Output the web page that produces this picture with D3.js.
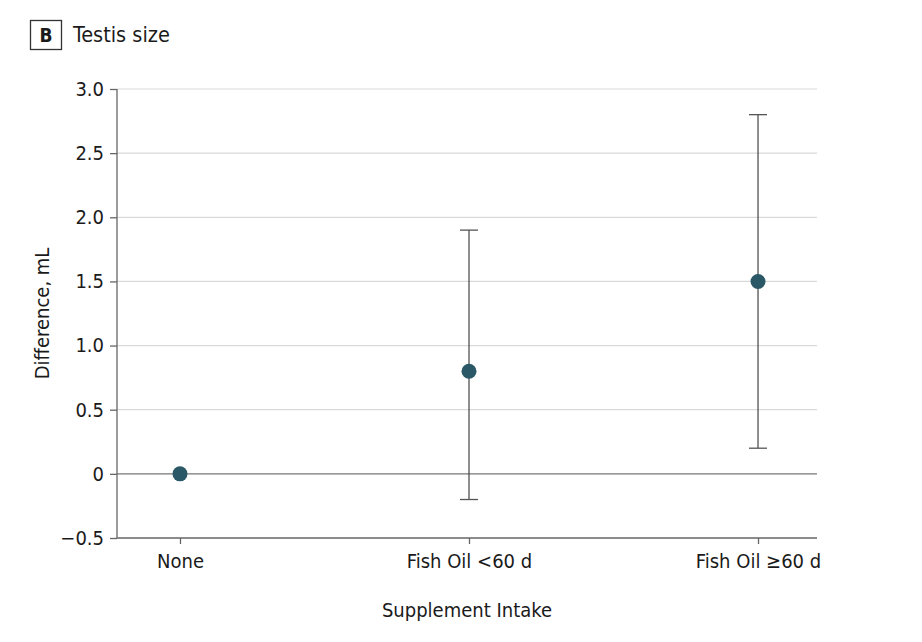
<!DOCTYPE html>
<html><head><meta charset="utf-8">
<script src="https://cdn.jsdelivr.net/npm/d3@7"></script>
<style>body{margin:0;background:#fff}svg{display:block}text{font-family:"Liberation Sans Narrow","DejaVu Sans Condensed",sans-serif;fill:#1a1a1a}</style>
</head><body><svg id="c" width="922" height="642"></svg>
<script>
const categories = ["None", "Fish Oil <60 d", "Fish Oil \u226560 d"];
const estimates = [0, 0.8, 1.5];
const lowerCI = [null, -0.2, 0.2];
const upperCI = [null, 1.9, 2.8];
const yTicks = [-0.5, 0, 0.5, 1.0, 1.5, 2.0, 2.5, 3.0];
const yTickLabels = ["\u22120.5", "0", "0.5", "1.0", "1.5", "2.0", "2.5", "3.0"];

const svg = d3.select("#c");
const mLeft = 117, mRight = 817, mTop = 89, mBottom = 538;
const FONT = '"Liberation Sans Narrow","DejaVu Sans Condensed",sans-serif';
const x = d3.scalePoint().domain(categories).range([mLeft + 2, mRight + 2]).padding(0.211);
const y = d3.scaleLinear().domain([-0.5, 3.0]).range([mBottom, mTop]);

// gridlines
svg.append("g").selectAll("line").data(yTicks.filter(t => t !== -0.5 && t !== 0)).join("line")
  .attr("x1", mLeft).attr("x2", mRight).attr("y1", d => y(d)).attr("y2", d => y(d))
  .attr("stroke", "#d9d9d9").attr("stroke-width", 1.2);
// zero line
svg.append("line").attr("x1", mLeft).attr("x2", mRight).attr("y1", y(0)).attr("y2", y(0))
  .attr("stroke", "#777").attr("stroke-width", 1.3);

// y axis
const yAxis = d3.axisLeft(y).tickValues(yTicks).tickSize(7).tickPadding(6)
  .tickFormat((d, i) => yTickLabels[i]);
const gy = svg.append("g").attr("transform", `translate(${mLeft},0)`).call(yAxis);
gy.select(".domain").attr("stroke", "#666").attr("stroke-width", 1.3).attr("d", `M0,${mTop}V${mBottom}`);
gy.selectAll(".tick line").attr("stroke", "#666").attr("stroke-width", 1.3);
gy.selectAll(".tick text").attr("font-size", 20).attr("fill", "#1a1a1a").style("font-family", FONT);

// x axis
const xAxis = d3.axisBottom(x).tickSize(6).tickPadding(10);
const gx = svg.append("g").attr("transform", `translate(0,${mBottom})`).call(xAxis);
gx.select(".domain").attr("stroke", "#666").attr("stroke-width", 1.3).attr("d", `M${mLeft},0H${mRight}`);
gx.selectAll(".tick line").attr("stroke", "#666").attr("stroke-width", 1.3);
gx.selectAll(".tick text").attr("font-size", 20).attr("fill", "#1a1a1a").style("font-family", FONT);

// error bars
const data = categories.map((c, i) => ({c, est: estimates[i], lo: lowerCI[i], hi: upperCI[i]}));
const eb = svg.append("g").selectAll("g").data(data.filter(d => d.lo !== null)).join("g");
eb.append("line").attr("x1", d => x(d.c)).attr("x2", d => x(d.c))
  .attr("y1", d => y(d.lo)).attr("y2", d => y(d.hi)).attr("stroke", "#444").attr("stroke-width", 1.2);
eb.append("line").attr("x1", d => x(d.c) - 9).attr("x2", d => x(d.c) + 9)
  .attr("y1", d => y(d.hi)).attr("y2", d => y(d.hi)).attr("stroke", "#555").attr("stroke-width", 1.3);
eb.append("line").attr("x1", d => x(d.c) - 9).attr("x2", d => x(d.c) + 9)
  .attr("y1", d => y(d.lo)).attr("y2", d => y(d.lo)).attr("stroke", "#555").attr("stroke-width", 1.3);

// points
svg.append("g").selectAll("circle").data(data).join("circle")
  .attr("cx", d => x(d.c)).attr("cy", d => y(d.est)).attr("r", 7.5).attr("fill", "#2b5866");

// axis titles
svg.append("text").attr("x", 467).attr("y", 617).attr("text-anchor", "middle")
  .attr("font-size", 20).text("Supplement Intake");
svg.append("text").attr("transform", `translate(49,${(mTop + mBottom) / 2}) rotate(-90)`)
  .attr("text-anchor", "middle").attr("font-size", 20).text("Difference, mL");

// panel label
svg.append("rect").attr("x", 30.5).attr("y", 20.5).attr("width", 31).attr("height", 29)
  .attr("fill", "none").attr("stroke", "#333").attr("stroke-width", 1.3);
svg.append("text").attr("x", 46).attr("y", 42).attr("text-anchor", "middle")
  .attr("font-size", 19).attr("font-weight", "bold").text("B");
svg.append("text").attr("x", 73).attr("y", 42).attr("font-size", 21.5).text("Testis size");
</script></body></html>
